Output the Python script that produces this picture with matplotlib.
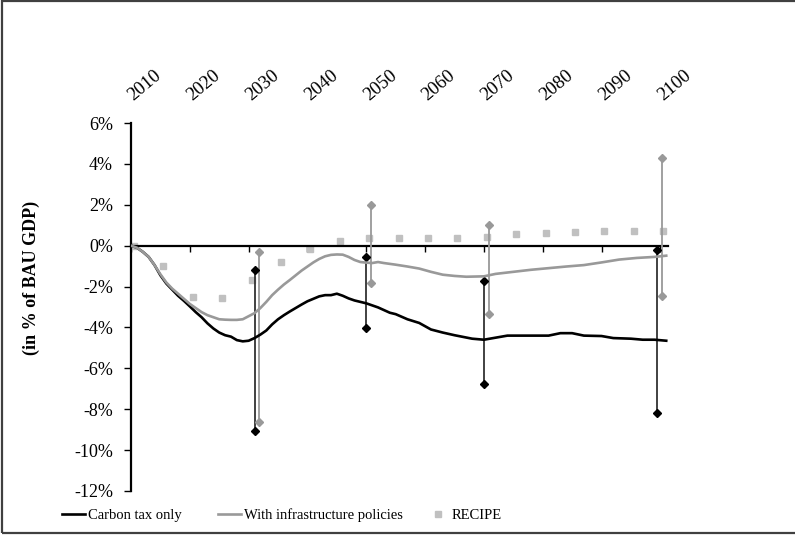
import matplotlib
matplotlib.use("Agg")
import matplotlib.pyplot as plt
from matplotlib.patches import Rectangle
from matplotlib.lines import Line2D
from matplotlib.transforms import ScaledTranslation

plt.rcParams['font.family'] = ['Liberation Serif', 'DejaVu Serif']

# Carbon tax only (black line)
tax_years = [2010, 2011, 2012, 2013, 2014, 2015, 2016, 2017, 2018, 2019,
             2020, 2021, 2022, 2023, 2024, 2025, 2026, 2027, 2028, 2029,
             2030, 2031, 2032, 2033, 2034, 2035, 2036, 2037, 2038, 2039,
             2040, 2041, 2042, 2043, 2044, 2045, 2046, 2047, 2048, 2049,
             2050, 2052, 2054, 2055, 2057, 2059, 2061, 2063, 2065, 2068,
             2070, 2072, 2074, 2077, 2081, 2083, 2085, 2087, 2090, 2092,
             2095, 2097, 2099, 2101]
tax_vals = [0, -0.1, -0.3, -0.55, -0.95, -1.45, -1.85, -2.15, -2.45, -2.7,
            -2.97, -3.25, -3.5, -3.8, -4.05, -4.25, -4.38, -4.45, -4.62, -4.68,
            -4.65, -4.52, -4.35, -4.15, -3.85, -3.6, -3.4, -3.22, -3.05, -2.88,
            -2.72, -2.6, -2.48, -2.42, -2.42, -2.35, -2.45, -2.58, -2.68, -2.75,
            -2.82, -3.02, -3.28, -3.35, -3.6, -3.78, -4.1, -4.25, -4.38, -4.55,
            -4.6, -4.5, -4.4, -4.4, -4.4, -4.28, -4.28, -4.4, -4.42, -4.52,
            -4.55, -4.6, -4.6, -4.65]

# With infrastructure policies (grey line)
infra_years = [2010, 2011, 2012, 2013, 2014, 2015, 2016, 2017, 2018, 2019,
               2020, 2021, 2022, 2023, 2024, 2025, 2026, 2027, 2028, 2029,
               2030, 2031, 2032, 2033, 2034, 2035, 2036, 2037, 2038, 2039,
               2040, 2041, 2042, 2043, 2044, 2045, 2046, 2047, 2048, 2049,
               2050, 2051, 2052, 2053, 2055, 2057, 2059, 2061, 2063, 2065,
               2067, 2070, 2072, 2075, 2078, 2081, 2084, 2087, 2090, 2093,
               2096, 2099, 2101]
infra_vals = [0, -0.1, -0.3, -0.55, -0.95, -1.4, -1.8, -2.1, -2.35, -2.6,
              -2.85, -3.05, -3.25, -3.4, -3.5, -3.6, -3.62, -3.63, -3.63, -3.6,
              -3.45, -3.3, -3.05, -2.75, -2.42, -2.15, -1.9, -1.68, -1.45, -1.22,
              -1.02, -0.82, -0.65, -0.52, -0.45, -0.43, -0.44, -0.55, -0.7, -0.8,
              -0.83, -0.85, -0.8, -0.85, -0.93, -1.02, -1.12, -1.28, -1.42, -1.48,
              -1.52, -1.5, -1.38, -1.28, -1.18, -1.1, -1.02, -0.95, -0.82, -0.68,
              -0.6, -0.55, -0.49]

# RECIPE points
recipe_years = [2010, 2015, 2020, 2025, 2030, 2035, 2040, 2045, 2050, 2055,
                2060, 2065, 2070, 2075, 2080, 2085, 2090, 2095, 2100]
recipe_vals = [0, -0.98, -2.5, -2.54, -1.66, -0.78, -0.15, 0.24, 0.39, 0.39,
               0.39, 0.39, 0.44, 0.58, 0.63, 0.68, 0.73, 0.73, 0.73]

# ranges (low, high)
tax_range_years = [2031, 2050, 2070, 2099.5]
tax_range_low = [-9.07, -4.05, -6.78, -8.2]
tax_range_high = [-1.17, -0.54, -1.71, -0.2]
infra_range_years = [2031.7, 2050.8, 2070.8, 2100.3]
infra_range_low = [-8.63, -1.82, -3.32, -2.44]
infra_range_high = [-0.29, 1.98, 1.02, 4.29]

decade_ticks = list(range(2010, 2101, 10))
y_ticks = [6, 4, 2, 0, -2, -4, -6, -8, -10, -12]
legend_labels = ['Carbon tax only', 'With infrastructure policies', 'RECIPE']

fig = plt.figure(figsize=(7.95, 5.4), dpi=100)
ax = fig.add_axes([131 / 795, 1 - 491 / 540, (668 - 131) / 795, (491 - 123) / 540])

black = '#000000'
grey = '#999999'
light = '#c0c0c0'

ax.vlines(tax_range_years, tax_range_low, tax_range_high, color='#333333', lw=1.3, zorder=3)
ax.plot(tax_range_years, tax_range_low, 'D', color=black, ms=4.5, zorder=4)
ax.plot(tax_range_years, tax_range_high, 'D', color=black, ms=4.5, zorder=4)
ax.vlines(infra_range_years, infra_range_low, infra_range_high, color=grey, lw=1.3, zorder=3)
ax.plot(infra_range_years, infra_range_low, 'D', color=grey, ms=4.5, zorder=4)
ax.plot(infra_range_years, infra_range_high, 'D', color=grey, ms=4.5, zorder=4)

ax.plot(tax_years, tax_vals, color=black, lw=1.9, zorder=5)
ax.plot(infra_years, infra_vals, color=grey, lw=1.9, zorder=5)
ax.plot([y + 0.5 for y in recipe_years], recipe_vals, 's', color=light, ms=3.8, zorder=2)

ax.set_xlim(2010, 2101.3)
ax.set_ylim(-12, 6)

for s in ['top', 'right']:
    ax.spines[s].set_visible(False)
ax.spines['left'].set_linewidth(1.6)
ax.spines['bottom'].set_linewidth(1.6)
ax.spines['bottom'].set_position(('data', 0))

ax.set_yticks(y_ticks)
ax.set_yticklabels(['%d%%' % v for v in y_ticks])
ax.tick_params(axis='y', direction='out', length=5, width=1, labelsize=13, pad=8)

ax.set_xticks(decade_ticks)
ax.set_xticklabels([str(t) for t in decade_ticks], rotation=40, ha='left', va='bottom',
                   rotation_mode='anchor')
ax.tick_params(axis='x', direction='out', length=4, width=1, labelsize=13.5,
               labelbottom=False, labeltop=True, top=False, bottom=True, pad=12)
# nudge the rotated year labels so they start right at the tick
shift = ScaledTranslation(0.05, -0.03, fig.dpi_scale_trans)
for tick in ax.xaxis.get_major_ticks():
    tick.label2.set_transform(tick.label2.get_transform() + shift)

ax.set_ylabel('(in % of BAU GDP)', fontsize=13, fontweight='bold')
ax.yaxis.set_label_coords(-0.17, 0.58)

handles = [Line2D([], [], color=black, lw=1.9),
           Line2D([], [], color=grey, lw=1.9),
           Line2D([], [], color=light, marker='s', ls='none', ms=3.8)]
legend_x = [62, 218, 426]
for h, lab, x in zip(handles, legend_labels, legend_x):
    fig.legend([h], [lab], loc='center left', bbox_to_anchor=(x / 795, 1 - 515 / 540),
               frameon=False, fontsize=10.5, handlelength=1.6, handletextpad=0.15,
               borderaxespad=0, borderpad=0)

fig.patches.append(Rectangle((2 / 795, 7 / 540), 1.0, 1 - 8 / 540, transform=fig.transFigure,
                             fill=False, edgecolor='#404040', lw=1.6))

fig.savefig('out.png', dpi=100)
